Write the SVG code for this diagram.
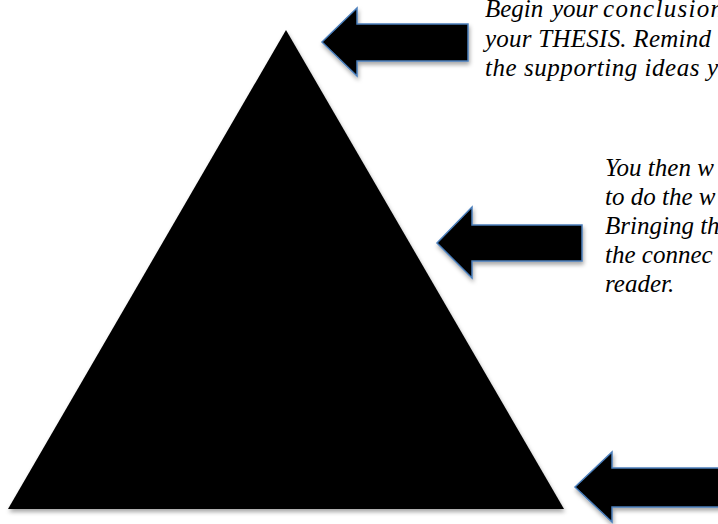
<svg xmlns="http://www.w3.org/2000/svg" width="718" height="524" viewBox="0 0 718 524">
  <style>
    .arrow { fill: #000; stroke: #4a7ebb; stroke-width: 1.5; stroke-linejoin: miter; filter: url(#shadow); }
    .pyr { fill: #000; filter: url(#shadow); }
    .note { font-family: "Liberation Serif", "Times New Roman", serif; font-style: italic; font-size: 25px; fill: #000; }
  </style>
  <defs>
    <filter id="shadow" x="-10%" y="-10%" width="130%" height="140%">
      <feDropShadow dx="1" dy="3" stdDeviation="2" flood-color="#000" flood-opacity="0.35"/>
    </filter>
  </defs>
  <rect width="718" height="524" fill="#fff"/>
  <g id="pyramid">
    <polygon class="pyr" points="286,30 8,509 564,509"/>
  </g>
  <g id="connectors">
    <polygon id="arrow-top" class="arrow" points="322,42 357,8 357,24 468,24 468,61 357,61 357,76"/>
    <polygon id="arrow-middle" class="arrow" points="437,243 472,207 472,225 582,225 582,261 472,261 472,278"/>
    <polygon id="arrow-bottom" class="arrow" points="575,487 612,452 612,468 730,468 730,507 612,507 612,522"/>
  </g>
  <g id="note-top">
    <text class="note" y="17"><tspan x="485">Begin</tspan><tspan x="552">your</tspan><tspan x="603" textLength="120">conclusion</tspan></text>
    <text class="note" x="485" y="47" textLength="226">your THESIS. Remind</text>
    <text class="note" x="485" y="76" textLength="233">the supporting ideas y</text>
  </g>
  <g id="note-middle">
    <text class="note" x="605" y="176">You then w</text>
    <text class="note" x="605" y="205">to do the w</text>
    <text class="note" x="605" y="234">Bringing th</text>
    <text class="note" x="605" y="263">the connec</text>
    <text class="note" x="605" y="292">reader.</text>
  </g>
</svg>
